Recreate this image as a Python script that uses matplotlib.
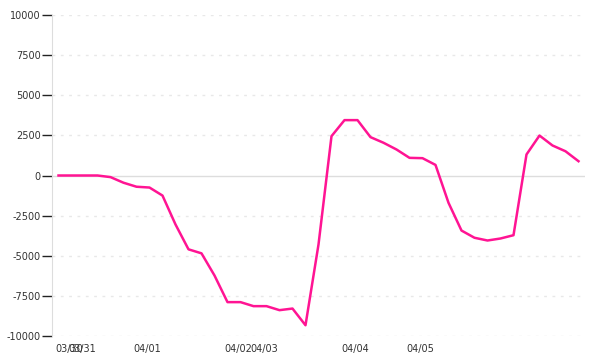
import numpy as np
import matplotlib
matplotlib.use("Agg")
import matplotlib.pyplot as plt
import matplotlib.transforms as mtransforms

# one value per sample, evenly spaced along the x axis
values = [0, 0, 0, 0, -100, -450, -700, -750, -1250, -3050,
          -4600, -4850, -6230, -7890, -7890, -8140, -8140, -8390, -8290, -9330,
          -4300, 2450, 3450, 3450, 2390, 2040, 1620, 1100, 1080, 660,
          -1700, -3430, -3880, -4050, -3925, -3720, 1310, 2490, 1870, 1510,
          890]

# date labels sit on the first sample of each day
label_index = [0, 1, 6, 13, 15, 22, 27]
date_labels = ["03/30", "03/31", "04/01", "04/02", "04/03", "04/04", "04/05"]

y_ticks = [-10000, -7500, -5000, -2500, 0, 2500, 5000, 7500, 10000]

fig = plt.figure(figsize=(6, 3.6), dpi=100)
ax = fig.add_axes([52 / 600, 24 / 360, 533 / 600, 321 / 360])

x = np.arange(len(values))
ax.plot(x, values, color="#ff1493", linewidth=1.8, zorder=3)

ax.set_xlim(-0.5, len(values) - 0.5)
ax.set_ylim(-10000, 10000)

# dashed grid, solid zero line
for yt in y_ticks:
    if yt == 0:
        ax.axhline(0, color="#dddddd", linewidth=1, zorder=1)
    else:
        ax.axhline(yt, color="#e8e8e8", linewidth=1, linestyle=(0, (2, 4)), zorder=1)

ax.set_yticks(y_ticks)
ax.set_yticklabels([str(v) for v in y_ticks])
ax.tick_params(axis="y", length=7, width=1, color="#222222", pad=1,
               labelsize=7, labelcolor="#333333")

ax.set_xticks(label_index)
ax.set_xticklabels(date_labels)
ax.tick_params(axis="x", length=0, pad=6, labelsize=7, labelcolor="#333333")
shift = mtransforms.ScaledTranslation(-3 / 100, 0, fig.dpi_scale_trans)
for lab in ax.get_xticklabels():
    lab.set_horizontalalignment("left")
    lab.set_transform(lab.get_transform() + shift)

for side in ["top", "right", "bottom"]:
    ax.spines[side].set_visible(False)
ax.spines["left"].set_color("#dddddd")

fig.savefig("out.png", dpi=100)
